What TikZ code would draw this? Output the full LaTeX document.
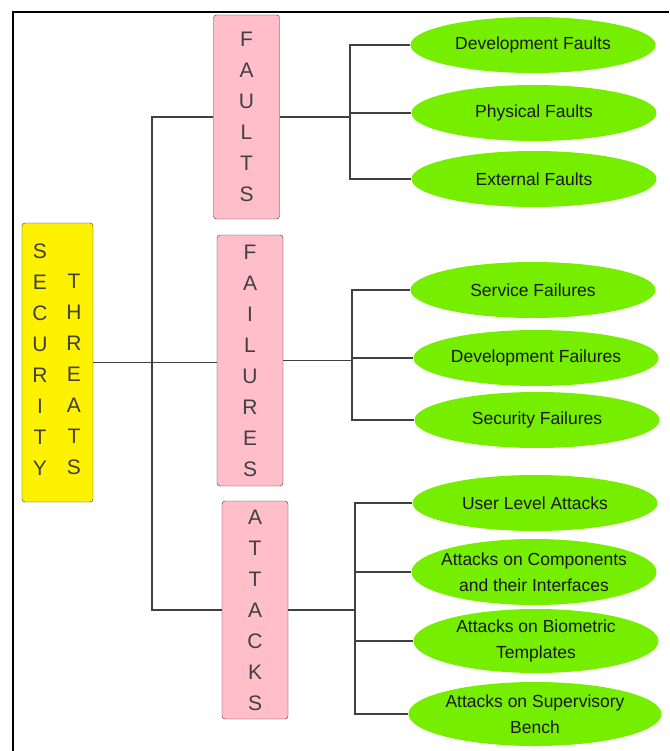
\documentclass[tikz,border=0pt]{standalone}
\usepackage{fontspec}
\setmainfont{Liberation Sans}
\usetikzlibrary{shapes.geometric}
\usepackage{xcolor}
\definecolor{leaf}{RGB}{118,238,0}
\definecolor{rose}{RGB}{255,190,200}

\begin{document}
\begin{tikzpicture}[x=1pt,y=-1pt]

\tikzset{root/.style = {shape=rectangle,rounded corners=3pt,draw=black!80,fill=yellow,minimum width=71pt,minimum height=279pt}}
\tikzset{group/.style = {shape=rectangle,rounded corners=3pt,draw=black!80,fill=rose,minimum width=66pt,inner sep=0pt,align=center,text=black!75,font=\fontsize{21}{31}\selectfont}}
\tikzset{letters/.style = {inner sep=0pt,align=center,text=black!75,font=\fontsize{21}{31}\selectfont}}
\tikzset{leafnode/.style = {shape=ellipse,fill=leaf,minimum width=245pt,minimum height=56pt,inner sep=0pt,align=center,text=black!90,font=\fontsize{17.5}{26}\selectfont}}
\tikzset{edge/.style = {-,draw=black!75,line width=1.1pt}}

\useasboundingbox (0,0) rectangle (669,751);
\draw[line width=2pt] (13,751) -- (13,12) -- (669,12);

\node[root] (threats) at (57.5,362.5) {};
\node[letters] (security) at (40,360) {S\\E\\C\\U\\R\\I\\T\\Y};
\node[letters] (threatword) at (74,374) {T\\H\\R\\E\\A\\T\\S};

\node[group,minimum height=204pt] (faults) at (246.5,117) {F\\A\\U\\L\\T\\S};
\node[group,minimum height=251pt] (failures) at (250,360.5) {F\\A\\I\\L\\U\\R\\E\\S};
\node[group,minimum height=218pt] (attacks) at (255,610) {A\\T\\T\\A\\C\\K\\S};

\node[leafnode] (devf) at (533,45) {Development Faults};
\node[leafnode] (phyf) at (534,113) {Physical Faults};
\node[leafnode] (extf) at (534,179) {External Faults};
\node[leafnode] (serf) at (533,290) {Service Failures};
\node[leafnode] (devfl) at (536,358) {Development Failures};
\node[leafnode] (secf) at (537,420) {Security Failures};
\node[leafnode] (usera) at (535,503) {User Level Attacks};
\node[leafnode,minimum height=66pt,inner xsep=-8pt] (compa) at (534,572) {Attacks on Components\\and their Interfaces};
\node[leafnode,minimum height=64pt] (bioa) at (536,641) {Attacks on Biometric\\Templates};
\node[leafnode,minimum height=64pt] (supa) at (535,714) {Attacks on Supervisory\\Bench};

\coordinate (spine) at (152,0);
\coordinate (fb) at (350,0);
\coordinate (flb) at (352,0);
\coordinate (ab) at (355,0);

%edges
\draw[edge] (threats.east) -- (threats.east -| failures.west);
\draw[edge] (faults.west) -- (faults.west -| spine) -- (attacks.west -| spine) -- (attacks.west);

\draw[edge] (faults.east) -- (faults.east -| fb);
\draw[edge] (devf.west) -| (fb |- extf.west) -- (extf.west);
\draw[edge] (fb |- phyf.west) -- (phyf.west);

\draw[edge] (failures.east) -- (failures.east -| flb);
\draw[edge] (serf.west) -| (flb |- secf.west) -- (secf.west);
\draw[edge] (flb |- devfl.west) -- (devfl.west);

\draw[edge] (attacks.east) -- (attacks.east -| ab);
\draw[edge] (usera.west) -| (ab |- supa.west) -- (supa.west);
\draw[edge] (ab |- compa.west) -- (compa.west);
\draw[edge] (ab |- bioa.west) -- (bioa.west);
\end{tikzpicture}
\end{document}
